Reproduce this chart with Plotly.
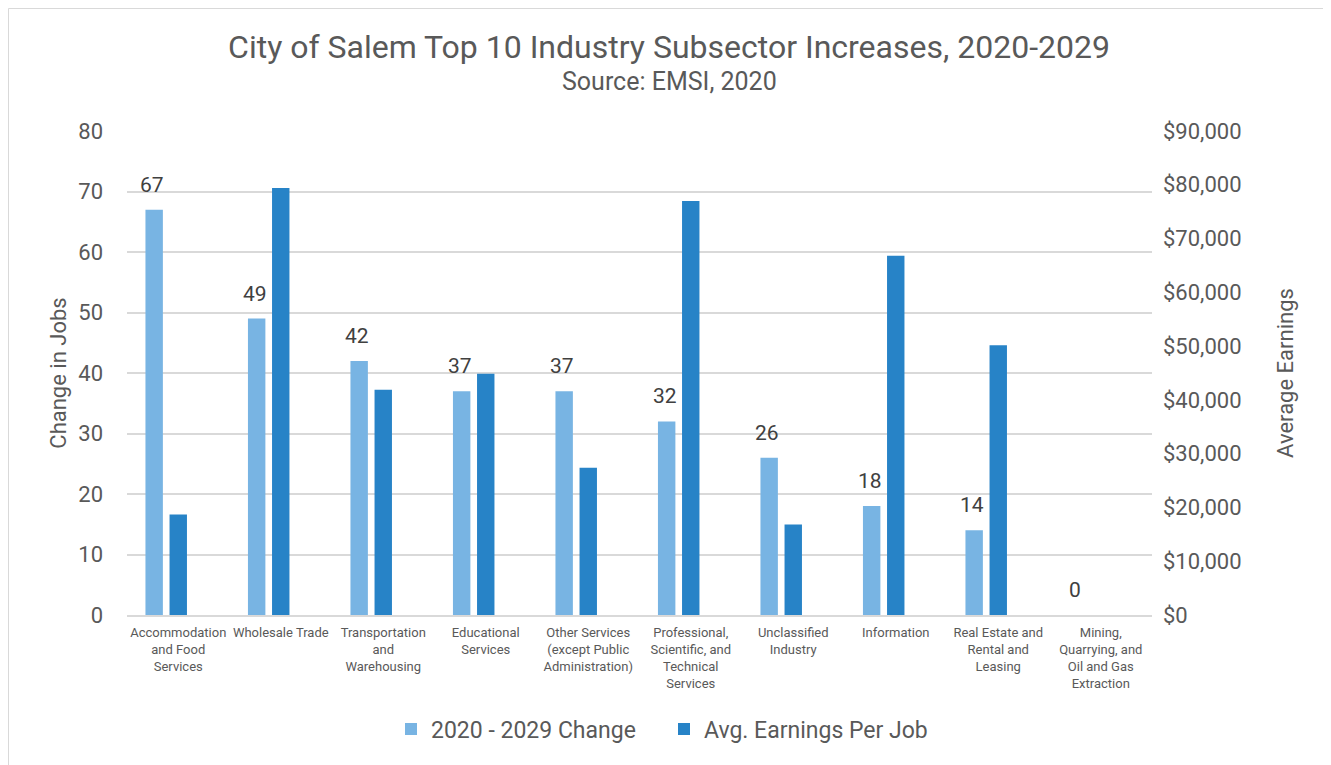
import plotly.graph_objects as go

categories = [
    "Accommodation<br>and Food<br>Services",
    "Wholesale Trade",
    "Transportation<br>and<br>Warehousing",
    "Educational<br>Services",
    "Other Services<br>(except Public<br>Administration)",
    "Professional,<br>Scientific, and<br>Technical<br>Services",
    "Unclassified<br>Industry",
    "Information",
    "Real Estate and<br>Rental and<br>Leasing",
    "Mining,<br>Quarrying, and<br>Oil and Gas<br>Extraction",
]
job_change = [67, 49, 42, 37, 37, 32, 26, 18, 14, 0]
avg_earnings = [18700, 79400, 41900, 44850, 27400, 77000, 16850, 66800, 50150, 0]

left_ticks = list(range(0, 81, 10))
right_ticks = list(range(0, 90001, 10000))
right_tick_text = ["${:,}".format(v) for v in right_ticks]

LIGHT = "#78B4E3"
DARK = "#2783C7"
TXT = "#595959"
GRID = "#D9D9D9"
FONT = "Roboto"

# page has an 8px body margin; work in page coordinates and convert
OFF = 8
W, H = 1331 - OFF, 765 - OFF
PL, PR, PT, PB = 127, 1152, 131, 615  # plot area in page coords
L, R, T, B = PL - OFF, W - (PR - OFF), PT - OFF, H - (PB - OFF)
pw, ph = W - L - R, H - T - B


def px_x(xpage):
    return (xpage - PL) / pw


def px_y(ypage):
    return (PB - ypage) / ph


fig = go.Figure()
fig.add_trace(go.Bar(
    x=categories, y=job_change, name="2020 - 2029 Change",
    marker=dict(color=LIGHT, line=dict(width=0)),
    width=0.17, offset=-0.32, yaxis="y",
))
fig.add_trace(go.Bar(
    x=categories, y=avg_earnings, name="Avg. Earnings Per Job",
    marker=dict(color=DARK, line=dict(width=0)),
    width=0.17, offset=-0.085, yaxis="y2",
))

for c, v in zip(categories, job_change):
    fig.add_annotation(
        x=c, y=v, xref="x", yref="y", text=str(v), showarrow=False,
        xshift=-26, yshift=25, yanchor="middle",
        font=dict(family=FONT, size=21, color="#404040"),
    )

fig.add_annotation(
    text="Source: EMSI, 2020", xref="paper", yref="paper",
    x=px_x(669), y=px_y(81), showarrow=False,
    xanchor="center", yanchor="middle",
    font=dict(family=FONT, size=25, color=TXT),
)

fig.add_shape(
    type="rect", xref="paper", yref="paper",
    x0=px_x(OFF + 0.5), x1=px_x(1330),
    y0=px_y(800), y1=px_y(OFF + 0.5),
    line=dict(color=GRID, width=1), fillcolor="rgba(0,0,0,0)", layer="below",
)

fig.update_layout(
    width=W, height=H,
    margin=dict(l=L, r=R, t=T, b=B, autoexpand=False),
    paper_bgcolor="white", plot_bgcolor="white",
    font=dict(family=FONT, color=TXT),
    barmode="overlay",
    title=dict(
        text="City of Salem Top 10 Industry Subsector Increases, 2020-2029",
        xref="container", x=(669 - OFF) / W, xanchor="center",
        yref="container", y=1 - (47 - OFF) / H, yanchor="middle",
        font=dict(family=FONT, size=32, color=TXT),
    ),
    xaxis=dict(
        tickfont=dict(family=FONT, size=13, color=TXT),
        showgrid=False, showline=True, linecolor=GRID, linewidth=1.5,
        ticks="", tickangle=0, automargin=False, ticklabelstandoff=5,
    ),
    yaxis=dict(
        range=[0, 80], tickvals=left_ticks,
        showgrid=True, gridcolor=GRID, gridwidth=1.5, zeroline=False,
        tickfont=dict(family=FONT, size=22, color=TXT),
        ticklabelstandoff=23, automargin=False,
        title=dict(text="Change in Jobs", standoff=5,
                   font=dict(family=FONT, size=22, color=TXT)),
    ),
    yaxis2=dict(
        range=[0, 90000], tickvals=right_ticks, ticktext=right_tick_text,
        overlaying="y", side="right", showgrid=False, zeroline=False,
        tickfont=dict(family=FONT, size=22, color=TXT),
        ticklabelstandoff=10, automargin=False,
        title=dict(text="Average Earnings", standoff=37,
                   font=dict(family=FONT, size=22, color=TXT)),
    ),
    legend=dict(
        orientation="h", xref="container", x=(391 - OFF) / W, xanchor="left",
        yref="container", y=1 - (729 - OFF) / H, yanchor="middle",
        font=dict(family=FONT, size=23, color=TXT),
        entrywidth=228, entrywidthmode="pixels", traceorder="normal",
    ),
    showlegend=True,
)

fig.write_html("out.html")
